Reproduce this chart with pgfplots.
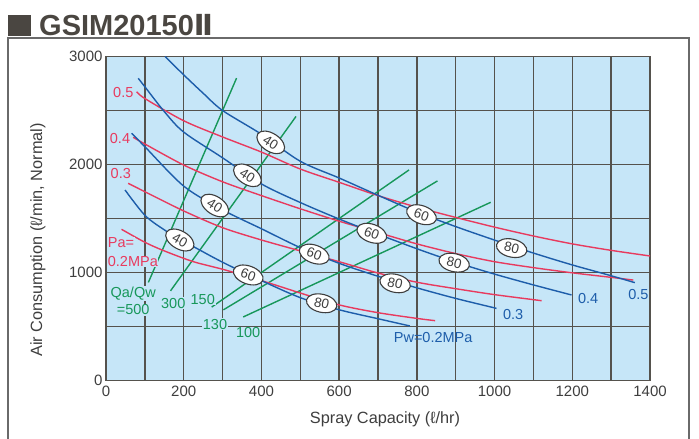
\documentclass[border=0pt]{standalone}
\usepackage{fontspec}
\setmainfont{Liberation Sans}
\newfontfamily\dejavu{DejaVu Sans}
\usepackage{pgfplots}
\pgfplotsset{compat=1.18}
\usetikzlibrary{shapes.geometric}
\definecolor{bgblue}{HTML}{C6E6F8}
\definecolor{gridcol}{HTML}{55524D}
\definecolor{cblue}{HTML}{1D5DAA}
\definecolor{cred}{HTML}{E83A5E}
\definecolor{cgreen}{HTML}{17975A}
\definecolor{titlecol}{HTML}{4A4641}
\definecolor{framecol}{HTML}{6A6A6A}
\definecolor{txtcol}{HTML}{3E3E3E}
\newcommand{\annot}{\fontsize{14.5}{16}\selectfont}
\tikzset{
  lab/.style={ellipse, draw=txtcol, line width=1.1pt, fill=white, minimum width=31pt, minimum height=18pt, inner sep=0pt, font=\fontsize{13.5}{13.5}\selectfont, text=txtcol},
  ann/.style={font=\annot, inner sep=1pt},
}
\begin{document}
\begin{tikzpicture}
\useasboundingbox (0,0) rectangle (699pt,439pt);
\fill[titlecol] (8pt,403pt) rectangle (31pt,424pt);
\node[anchor=base west, inner sep=0, text=titlecol, font=\fontsize{29}{30}\selectfont\bfseries] at (39pt,403.5pt) {GSIM20150{\dejavu\bfseries Ⅱ}};
\draw[framecol, line width=1.2pt] (8pt,-2pt) -- (8pt,401pt) -- (689pt,401pt) -- (689pt,-2pt);
\begin{axis}[
  at={(106pt,58.5pt)}, anchor=south west, scale only axis,
  width=544pt, height=324pt,
  xmin=0, xmax=1400, ymin=0, ymax=3000,
  xtick={0,200,...,1400}, minor xtick={100,300,...,1300},
  ytick={0,1000,2000,3000}, minor ytick={500,1500,2500},
  grid=both,
  major grid style={gridcol, line width=1.3pt},
  minor grid style={gridcol, line width=1.3pt},
  major tick length=0pt, minor tick length=0pt,
  axis line style={gridcol, line width=1.5pt},
  axis background/.style={fill=bgblue},
  tick label style={font=\fontsize{15}{17}\selectfont, text=txtcol},
  xticklabel style={yshift=-2pt},
  /pgf/number format/assume math mode=true,
  /pgf/number format/1000 sep={},
  clip=false,
  every axis plot/.append style={line width=1.4pt},
]
% Qa/Qw lines
\addplot[cgreen] coordinates {(109,908) (336,2800)};
\addplot[cgreen] coordinates {(166,830) (489,2445)};
\addplot[cgreen] coordinates {(272,680) (780,1950)};
\addplot[cgreen] coordinates {(302,654) (853,1848)};
\addplot[cgreen] coordinates {(353,588) (990,1650)};
% Pa curves (red)
\addplot[cred, smooth] coordinates {(79,2674) (100,2611) (200,2405) (300,2255) (400,2115) (500,1958) (600,1835) (700,1712) (800,1605) (900,1510) (1000,1420) (1100,1338) (1200,1265) (1300,1205) (1400,1153)};
\addplot[cred, smooth] coordinates {(70,2252) (100,2190) (200,1995) (300,1840) (400,1712) (500,1590) (600,1475) (700,1370) (800,1265) (900,1175) (1000,1100) (1100,1045) (1200,997) (1300,955) (1357,930)};
\addplot[cred, smooth] coordinates {(57,1826) (100,1748) (200,1570) (300,1415) (400,1301) (500,1200) (600,1100) (700,995) (800,910) (900,850) (1000,795) (1121,739)};
\addplot[cred, smooth] coordinates {(40,1400) (100,1280) (150,1200) (225,1100) (300,1030) (400,925) (500,810) (600,700) (700,628) (800,575) (847,554)};
% Pw curves (blue)
\addplot[cblue, smooth] coordinates {(152,3000) (200,2830) (250,2660) (300,2500) (400,2280) (500,2030) (600,1875) (700,1715) (800,1560) (900,1425) (1000,1300) (1100,1180) (1200,1070) (1300,970) (1361,906)};
\addplot[cblue, smooth] coordinates {(83,2798) (100,2720) (150,2490) (200,2300) (300,2062) (400,1820) (500,1648) (600,1495) (700,1355) (800,1220) (900,1095) (1000,985) (1100,885) (1198,792)};
\addplot[cblue, smooth] coordinates {(66,2289) (100,2165) (200,1800) (300,1580) (400,1405) (500,1230) (600,1085) (700,965) (800,858) (900,760) (1005,668)};
\addplot[cblue, smooth] coordinates {(49,1764) (100,1530) (150,1395) (200,1290) (300,1095) (400,925) (500,767) (600,655) (700,572) (782,505)};
% ellipse labels
\node[lab, rotate=-33] at (axis cs:424,2205) {40};
\node[lab, rotate=-20] at (axis cs:812,1535) {60};
\node[lab, rotate=-13] at (axis cs:1044,1226) {80};
\node[lab, rotate=-33] at (axis cs:364,1900) {40};
\node[lab, rotate=-20] at (axis cs:684,1363) {60};
\node[lab, rotate=-13] at (axis cs:896,1091) {80};
\node[lab, rotate=-33] at (axis cs:280,1620) {40};
\node[lab, rotate=-20] at (axis cs:536,1170) {60};
\node[lab, rotate=-13] at (axis cs:744,900) {80};
\node[lab, rotate=-30] at (axis cs:190,1301) {40};
\node[lab, rotate=-20] at (axis cs:366,977) {60};
\node[lab, rotate=-13] at (axis cs:555,715) {80};
% red text
\node[ann, text=cred] at (axis cs:44.5,2665) {0.5};
\node[ann, text=cred] at (axis cs:36,2243) {0.4};
\node[ann, text=cred] at (axis cs:38,1912) {0.3};
\node[ann, text=cred, anchor=west, fill=bgblue, inner sep=0.5pt] at (axis cs:3,1273) {Pa=};
\node[ann, text=cred, anchor=west, fill=bgblue, inner sep=0.5pt] at (axis cs:3,1100) {0.2MPa};
% green text
\node[ann, text=cgreen, fill=bgblue] at (axis cs:70,807) {Qa/Qw};
\node[ann, text=cgreen, fill=bgblue] at (axis cs:70,653) {=500};
\node[ann, text=cgreen, fill=bgblue] at (axis cs:173,715) {300};
\node[ann, text=cgreen, fill=bgblue] at (axis cs:249,752) {150};
\node[ann, text=cgreen, fill=bgblue] at (axis cs:280.5,523) {130};
\node[ann, text=cgreen, fill=bgblue] at (axis cs:366,443) {100};
% blue text
\node[ann, text=cblue] at (axis cs:1370,796) {0.5};
\node[ann, text=cblue] at (axis cs:1241,759) {0.4};
\node[ann, text=cblue] at (axis cs:1048,613) {0.3};
\node[ann, text=cblue] at (axis cs:842,401) {Pw=0.2MPa};
\end{axis}
\node[text=txtcol, font=\fontsize{16.3}{18}\selectfont] at (385pt,20pt) {Spray Capacity (ℓ/hr)};
\node[text=txtcol, font=\fontsize{16.3}{18}\selectfont, rotate=90] at (38pt,199pt) {Air Consumption (ℓ/min, Normal)};
\end{tikzpicture}
\end{document}
